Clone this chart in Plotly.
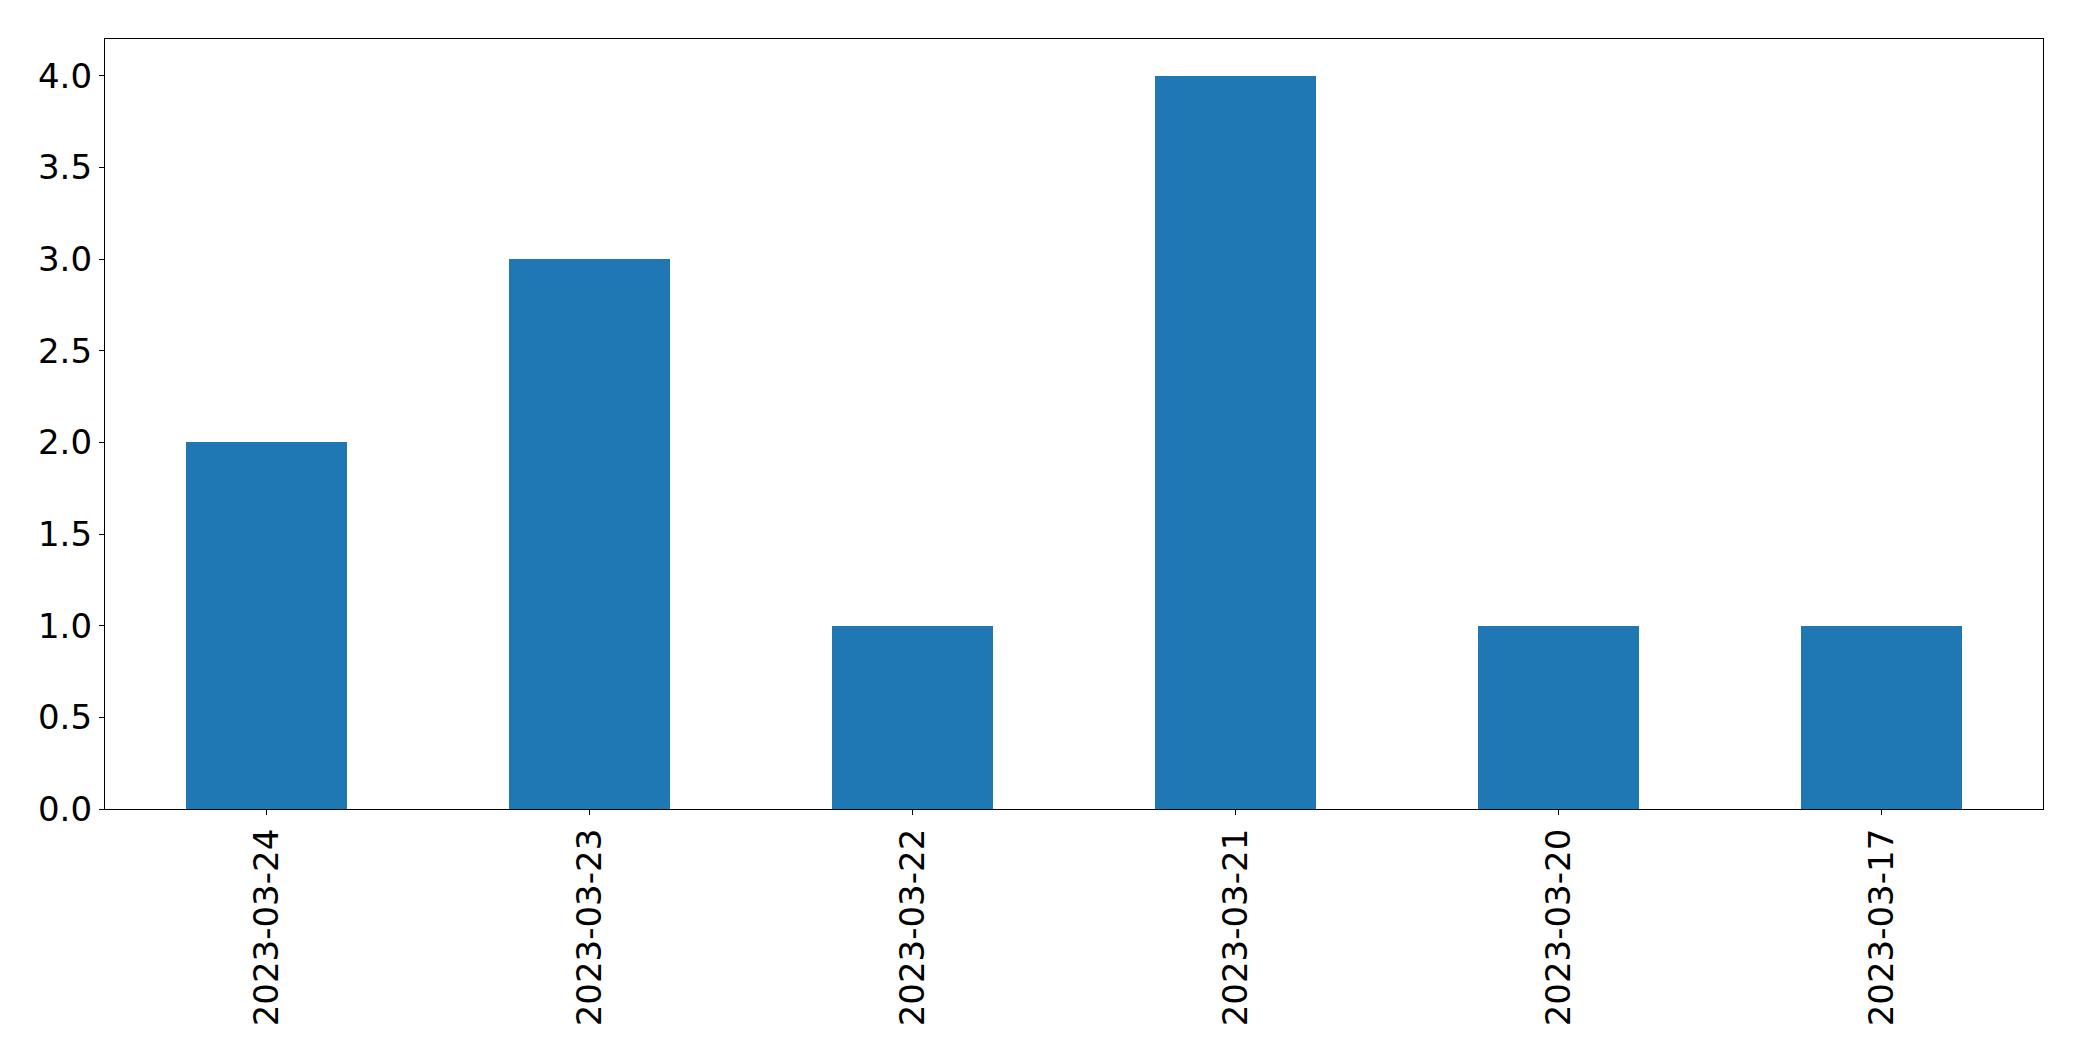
import plotly.graph_objects as go

dates = ["2023-03-24", "2023-03-23", "2023-03-22", "2023-03-21", "2023-03-20", "2023-03-17"]
counts = [2, 3, 1, 4, 1, 1]
y_ticks = [0.0, 0.5, 1.0, 1.5, 2.0, 2.5, 3.0, 3.5, 4.0]
y_tick_labels = [f"{v:.1f}" for v in y_ticks]

fig = go.Figure(go.Bar(x=dates, y=counts, width=0.5, marker=dict(color="#1f77b4", line=dict(width=0))))

axis_common = dict(
    showline=True, linecolor="black", linewidth=1.3, mirror=True,
    ticks="outside", ticklen=5, tickwidth=1.3, tickcolor="black",
    showgrid=False, zeroline=False,
    tickfont=dict(family="DejaVu Sans", size=34, color="black"),
)

fig.update_layout(
    width=2082, height=1061,
    margin=dict(l=97, r=47, t=31, b=260, autoexpand=False),
    plot_bgcolor="white", paper_bgcolor="white",
    showlegend=False,
    bargap=0,
    xaxis=dict(type="category", range=[-0.5, 5.5], tickangle=-90, **axis_common),
    yaxis=dict(range=[0, 4.2], tickvals=y_ticks, ticktext=y_tick_labels, **axis_common),
)

fig.write_html("out.html")
